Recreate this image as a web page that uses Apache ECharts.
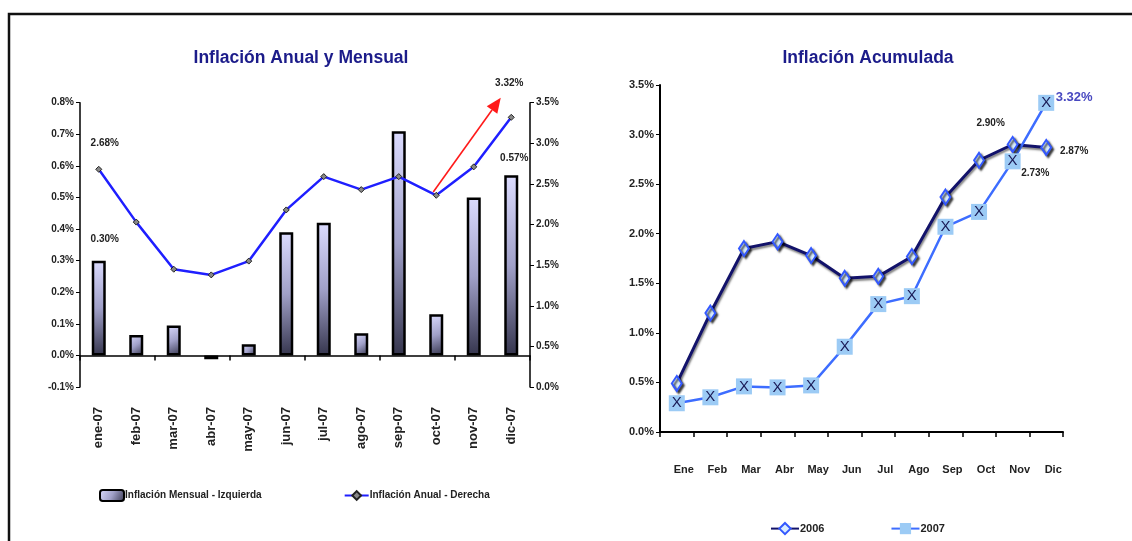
<!DOCTYPE html>
<html>
<head>
<meta charset="utf-8">
<script src="https://cdn.jsdelivr.net/npm/echarts@6/dist/echarts.min.js"></script>
<style>
html,body{margin:0;padding:0;background:#fff;}
#chart{width:1132px;height:541px;}
</style>
</head>
<body>
<div id="chart"></div>
<script>
// ---- Data ----
const monthsLeft = ['ene-07','feb-07','mar-07','abr-07','may-07','jun-07','jul-07','ago-07','sep-07','oct-07','nov-07','dic-07'];
const inflMensual = [0.30, 0.065, 0.095, -0.012, 0.035, 0.39, 0.42, 0.07, 0.71, 0.13, 0.50, 0.57];
const inflAnual = [2.68, 2.03, 1.45, 1.38, 1.55, 2.18, 2.59, 2.43, 2.59, 2.36, 2.71, 3.32];
const monthsRight = ['Ene','Feb','Mar','Abr','May','Jun','Jul','Ago','Sep','Oct','Nov','Dic'];
const acum2006 = [0.49, 1.20, 1.85, 1.92, 1.78, 1.55, 1.57, 1.77, 2.37, 2.74, 2.90, 2.87];
const acum2007 = [0.29, 0.35, 0.46, 0.45, 0.47, 0.86, 1.29, 1.37, 2.07, 2.22, 2.73, 3.32];
const leftAxisTicks = {min: -0.1, max: 0.8, interval: 0.1};
const rightAxisTicks = {min: 0, max: 3.5, interval: 0.5};
const accumAxisTicks = {min: 0, max: 3.5, interval: 0.5};
// red trend arrow (category index, right-axis value)
const arrowFrom = [8.92, 2.40];
const arrowTo = [10.72, 3.56];
const titles = ['Inflación Anual y Mensual', 'Inflación Acumulada'];
const legendLeft = ['Inflación Mensual - Izquierda', 'Inflación Anual - Derecha'];
const legendRight = ['2006', '2007'];

const FONT = "'Liberation Sans',Arial,sans-serif";
const pct1 = v => v.toFixed(1) + '%';
const pct2 = v => v.toFixed(2) + '%';
const axisTxt = {fontFamily: FONT, fontWeight: 'bold', fontSize: 10, color: '#222'};

const chart = echarts.init(document.getElementById('chart'), null, {renderer: 'canvas'});

const barGradient = new echarts.graphic.LinearGradient(0, 0, 1, 1, [
  {offset: 0, color: '#dcdcff'},
  {offset: 0.5, color: '#a0a0c8'},
  {offset: 1, color: '#34344c'}
]);

const barData = inflMensual.map((v, i) => {
  const d = {value: v};
  if (i === 0 || i === inflMensual.length - 1) {
    d.label = {show: true, position: 'top', distance: i === 0 ? 16 : 12, offset: [i === 0 ? 6 : 3, 0],
      formatter: p => pct2(p.value), ...axisTxt};
  }
  return d;
});
const lineData = inflAnual.map((v, i) => {
  const d = {value: v};
  if (i === 0 || i === inflAnual.length - 1) {
    d.label = {show: true, position: 'top', distance: i === 0 ? 18 : 26, offset: [i === 0 ? 6 : -2, 0],
      formatter: p => pct2(p.value), ...axisTxt};
  }
  return d;
});
const d2006 = acum2006.map((v, i) => {
  const d = {value: v};
  if (i === 10) d.label = {show: true, position: 'top', distance: 8, offset: [-22, 0], formatter: p => pct2(p.value), ...axisTxt};
  if (i === 11) d.label = {show: true, position: 'right', distance: 8, offset: [0, 4], formatter: p => pct2(p.value), ...axisTxt};
  return d;
});

const option = {
  animation: false,
  backgroundColor: '#fff',
  title: [
    {text: titles[0], left: 296, top: 44, textAlign: 'center',
      textStyle: {fontFamily: FONT, fontWeight: 'bold', fontSize: 17.5, color: '#1c1c8a'}},
    {text: titles[1], left: 863, top: 44, textAlign: 'center',
      textStyle: {fontFamily: FONT, fontWeight: 'bold', fontSize: 17.5, color: '#1c1c8a'}}
  ],
  legend: [
    {data: legendLeft, left: 94, top: 484, itemGap: 82, itemWidth: 24, itemHeight: 11,
      textStyle: {fontFamily: FONT, fontWeight: 'bold', fontSize: 10, color: '#222', padding: [0,0,0,-4]}},
    {data: legendRight, left: 765, top: 517, itemGap: 66, itemWidth: 28, itemHeight: 14,
      textStyle: {fontFamily: FONT, fontWeight: 'bold', fontSize: 11, color: '#222', padding: [0,0,0,-4]}}
  ],
  grid: [
    {left: 80, right: 602, top: 102.7, bottom: 154},
    {left: 660, right: 69, top: 85, bottom: 109}
  ],
  xAxis: [
    {type: 'category', gridIndex: 0, data: monthsLeft, position: 'bottom',
      axisLine: {show: false, onZero: false}, axisTick: {show: false},
      axisLabel: {rotate: 90, margin: 20, fontFamily: FONT, fontWeight: 'bold', fontSize: 13, color: '#222'}},
    {type: 'category', gridIndex: 0, data: monthsLeft, position: 'bottom',
      axisLine: {show: true, onZero: true, onZeroAxisIndex: 0, lineStyle: {color: '#000', width: 1.5}},
      axisTick: {show: true, length: 5, lineStyle: {color: '#000', width: 1.5}},
      axisLabel: {show: false}},
    {type: 'value', gridIndex: 0, min: -0.5, max: monthsLeft.length - 0.5, show: false},
    {type: 'category', gridIndex: 1, data: monthsRight,
      axisLine: {show: true, onZero: false, lineStyle: {color: '#000', width: 2}},
      axisTick: {show: true, length: 5, lineStyle: {color: '#000', width: 1.5}},
      axisLabel: {margin: 32, padding: [0,0,0,14], fontFamily: FONT, fontWeight: 'bold', fontSize: 11, color: '#222'}}
  ],
  yAxis: [
    {type: 'value', gridIndex: 0, ...leftAxisTicks, position: 'left',
      axisLine: {show: true, onZero: false, lineStyle: {color: '#000', width: 1.5}},
      axisTick: {show: true, length: 4, lineStyle: {color: '#000'}},
      splitLine: {show: false},
      axisLabel: {formatter: pct1, margin: 6, ...axisTxt}},
    {type: 'value', gridIndex: 0, ...rightAxisTicks, position: 'right',
      axisLine: {show: true, onZero: false, lineStyle: {color: '#000', width: 1.5}},
      axisTick: {show: true, length: 4, lineStyle: {color: '#000'}},
      splitLine: {show: false},
      axisLabel: {formatter: pct1, margin: 6, ...axisTxt}},
    {type: 'value', gridIndex: 1, ...accumAxisTicks,
      axisLine: {show: true, onZero: false, lineStyle: {color: '#000', width: 2}},
      axisTick: {show: true, length: 4, lineStyle: {color: '#000'}},
      splitLine: {show: false},
      axisLabel: {formatter: pct1, margin: 6, ...axisTxt, fontSize: 11}}
  ],
  series: [
    {name: legendLeft[0], type: 'bar', xAxisIndex: 0, yAxisIndex: 0, data: barData, barWidth: 14,
      itemStyle: {color: barGradient, borderColor: '#000', borderWidth: 2.5}},
    {name: legendLeft[1], type: 'line', xAxisIndex: 0, yAxisIndex: 1, data: lineData,
      symbol: 'diamond', symbolSize: 6,
      lineStyle: {color: '#1f1fff', width: 2.5},
      itemStyle: {color: '#888', borderColor: '#222', borderWidth: 1}},
    {name: legendRight[0], type: 'line', xAxisIndex: 3, yAxisIndex: 2, data: d2006,
      symbol: 'diamond', symbolSize: [10, 15],
      lineStyle: {color: '#12126a', width: 3, shadowColor: 'rgba(0,0,0,0.5)', shadowBlur: 2, shadowOffsetX: 1, shadowOffsetY: 2},
      itemStyle: {color: '#d8ecff', borderColor: '#3358ff', borderWidth: 2, shadowColor: 'rgba(0,0,0,0.7)', shadowBlur: 2, shadowOffsetX: 2, shadowOffsetY: 2}},
    {name: legendRight[1], type: 'line', xAxisIndex: 3, yAxisIndex: 2, data: acum2007,
      symbol: 'rect', symbolSize: 16,
      lineStyle: {color: '#3d6dff', width: 2.5},
      itemStyle: {color: '#9ccbf5'},
      label: {show: true, position: 'inside', formatter: 'X', fontFamily: FONT, fontSize: 15, color: '#1a1a55'},
      markPoint: {symbol: 'circle', symbolSize: 1, itemStyle: {color: 'rgba(0,0,0,0)'}, silent: true,
        data: [
          {coord: [monthsRight[10], acum2007[10]], value: acum2007[10],
            label: {show: true, position: 'right', distance: 8, offset: [0, 12], formatter: p => pct2(p.value), ...axisTxt}},
          {coord: [monthsRight[11], acum2007[11]], value: acum2007[11],
            label: {show: true, position: 'right', distance: 9, offset: [0, -5], formatter: p => pct2(p.value), fontFamily: FONT, fontWeight: 'bold', fontSize: 13, color: '#4848c0'}}
        ]}}
  ],
  graphic: [
    {id: 'frame', type: 'polyline', silent: true, shape: {points: [[9, 541], [9, 14], [1132, 14]]},
      style: {stroke: '#111', lineWidth: 2.5, fill: null}}
  ]
};
chart.setOption(option);

// Red trend arrow, positioned through the chart's own axes
const finder = {xAxisIndex: 2, yAxisIndex: 1};
const p1 = chart.convertToPixel(finder, arrowFrom);
const p2 = chart.convertToPixel(finder, arrowTo);
const ang = Math.atan2(p2[1] - p1[1], p2[0] - p1[0]);
const headLen = 15, headHalf = 6.5;
const base = [p2[0] - headLen * Math.cos(ang), p2[1] - headLen * Math.sin(ang)];
const nx = -Math.sin(ang), ny = Math.cos(ang);
chart.setOption({
  graphic: [
    {id: 'arrowLine', type: 'line', silent: true, z: 10,
      shape: {x1: p1[0], y1: p1[1], x2: base[0], y2: base[1]},
      style: {stroke: '#ff1a1a', lineWidth: 1.6}},
    {id: 'arrowHead', type: 'polygon', silent: true, z: 10,
      shape: {points: [p2, [base[0] + nx * headHalf, base[1] + ny * headHalf], [base[0] - nx * headHalf, base[1] - ny * headHalf]]},
      style: {fill: '#ff1a1a'}}
  ]
});
</script>
</body>
</html>
